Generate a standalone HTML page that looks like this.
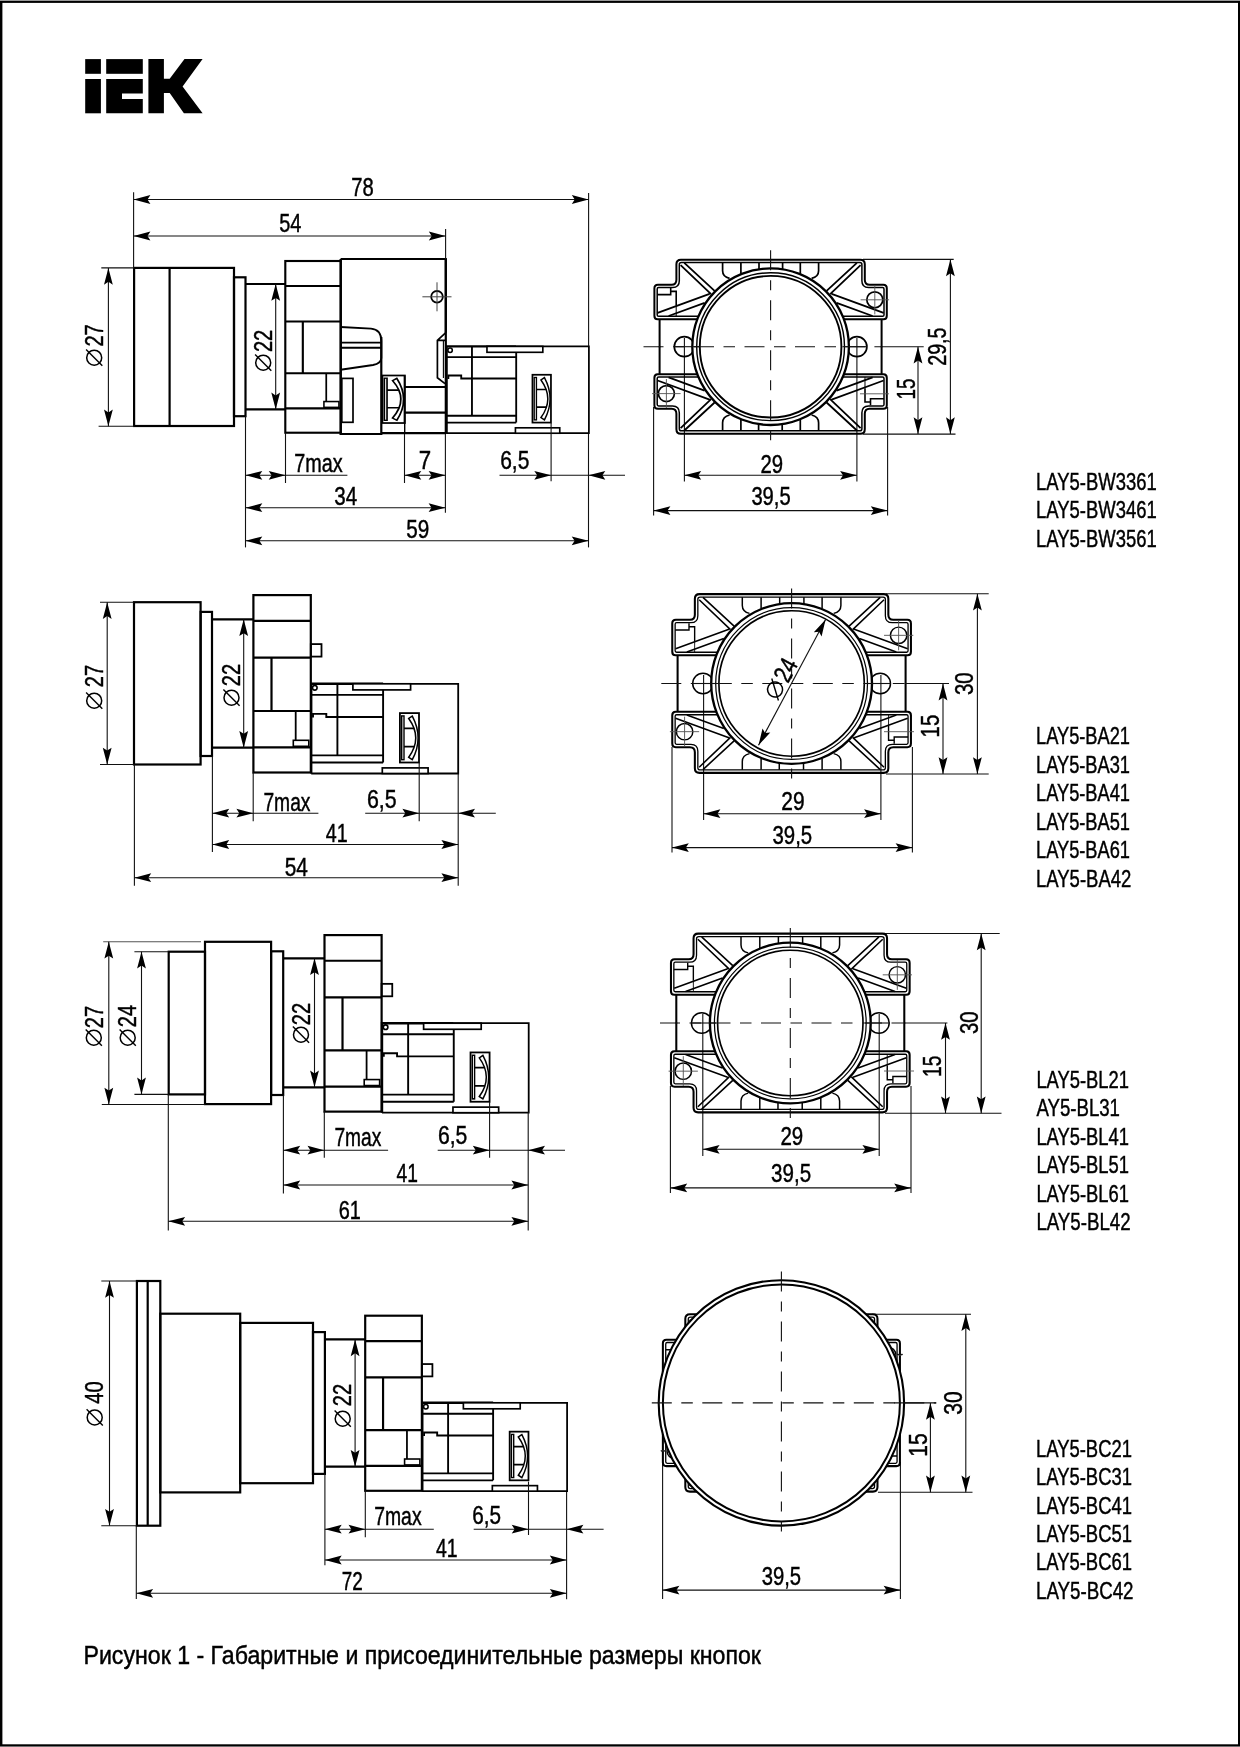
<!DOCTYPE html>
<html><head><meta charset="utf-8"><title>IEK LAY5</title>
<style>html,body{margin:0;padding:0;background:#fff}body{width:1240px;height:1747px;overflow:hidden}svg{display:block;filter:grayscale(1)}text{font-family:"Liberation Sans",sans-serif;fill:#000;stroke:#000;stroke-width:0.45px}</style></head><body>
<svg width="1240" height="1747" viewBox="0 0 1240 1747">
<rect x="0" y="0" width="1240" height="1747" fill="#fff"/>
<rect x="0" y="0" width="1240" height="1" fill="#999"/>
<rect x="0" y="1746.3" width="1240" height="0.7" fill="#777"/>
<rect x="0" y="1" width="1240" height="1.9" fill="#000"/>
<rect x="0" y="1744.3" width="1240" height="2" fill="#000"/>
<rect x="0" y="1" width="2.4" height="1745" fill="#000"/>
<rect x="1238" y="1" width="2" height="1745" fill="#000"/>
<g fill="#000">
<rect x="85.2" y="59.1" width="15.7" height="14.7"/>
<rect x="85.2" y="79" width="15.7" height="34.3"/>
<rect x="106.2" y="59.1" width="36.6" height="14.7"/>
<path d="M106.2,79 H142.8 V93.5 H122 V99.1 H142.8 V113.3 H106.2 Z"/>
<path d="M148.4,59.1 H163.9 V78.7 H169.7 L184.5,59.1 H202.6 L182.6,86.5 L202.6,113.3 H183.9 L169.7,93 H163.9 V113.3 H148.4 Z"/>
</g>
<rect x="134.1" y="267.9" width="99.9" height="158.1" stroke="#000" stroke-width="2.2" fill="none"/>
<line x1="169.6" y1="267.9" x2="169.6" y2="426" stroke="#000" stroke-width="2.2" />
<rect x="234" y="277.3" width="11.5" height="138.9" stroke="#000" stroke-width="2.2" fill="none"/>
<path d="M 245.5,284 H 285.3 M 245.5,409.4 H 285.3" stroke="#000" stroke-width="2.2" fill="none" />
<g transform="translate(285.3 261) scale(0.968)">
<rect x="0" y="0" width="57.4" height="177.4" stroke="#000" stroke-width="2.2" fill="none"/>
<path d="M 0,25.8 H 57.4 M 0,62.5 H 57.4 M 0,115.9 H 57.4 M 0,152.2 H 57.4 M 18.1,62.5 V 115.9" stroke="#000" stroke-width="2.2" fill="none" />
<path d="M 42.3,115.9 V 145.2" stroke="#000" stroke-width="1.8" fill="none" />
<rect x="39.9" y="145.2" width="15.5" height="6" stroke="#000" stroke-width="1.6" fill="none"/>
</g>
<path d="M 340.6,259 H 445.8 V 332.7 M 340.6,259 V 434 H 381.3 V 337" stroke="#000" stroke-width="2.2" fill="none" />
<path d="M 340.6,327 L 371,328.6 Q 381.3,329.5 381.3,341 V 358 Q 381.3,363.5 373,365 L 340.6,369.8 M 340.6,342.6 H 381.3 M 340.6,347.7 H 381.3" stroke="#000" stroke-width="1.9" fill="none" />
<rect x="341.8" y="378.4" width="11.2" height="43.9" stroke="#000" stroke-width="1.7" fill="none"/>
<g transform="translate(382.2 375.5) scale(1.178 0.962)">
<rect x="0" y="0" width="19.1" height="49.4" stroke="#000" stroke-width="1.8" fill="none"/>
<rect x="1.8" y="2.8" width="2.3" height="43.8" stroke="#000" stroke-width="1.4" fill="none"/>
<path d="M 4.1,15.2 H 15.6 M 4.1,33.5 H 15.6" stroke="#000" stroke-width="1.7" fill="none" />
<path d="M 12.4,3 Q 24,24.8 12.4,46.6 L 8.8,44.2 Q 22.9,24.8 8.8,5.4 Z" stroke="#000" stroke-width="1.5" fill="#fff" stroke-linejoin="miter"/>
</g>
<path d="M 404.7,375.5 V 434" stroke="#000" stroke-width="1.4" fill="none" />
<path d="M 404.7,387 H 445 M 404.7,412.6 H 445 M 381.3,433.2 H 446" stroke="#000" stroke-width="2.2" fill="none" />
<path d="M 445.8,332.7 L 437.4,340.3 V 377.8 L 445,383.6 M 437.4,340.3 H 445" stroke="#000" stroke-width="1.7" fill="none" />
<path d="M 443.4,340.3 V 378" stroke="#000" stroke-width="1.1" fill="none" />
<path d="M 445.8,259 V 434" stroke="#000" stroke-width="2.2" fill="none" />
<circle cx="437" cy="296.8" r="5.8" stroke="#000" stroke-width="1.8" fill="none"/>
<line x1="422.4" y1="296.8" x2="451.5" y2="296.8" stroke="#444" stroke-width="1.0" />
<line x1="437" y1="282.3" x2="437" y2="311.3" stroke="#444" stroke-width="1.0" />
<g transform="translate(446.6 346.4) scale(0.968)">
<path d="M 71.9,0 H 147 V 89.7 H 0" stroke="#000" stroke-width="1.8" fill="none" />
<path d="M 0,89.7 V 0 H 71.9" stroke="#000" stroke-width="2.4" fill="none" />
<circle cx="3.6" cy="4" r="2.3" stroke="#000" stroke-width="1.6" fill="none"/>
<path d="M 26.2,0 V 71.6 M 0,11.1 H 71.9 M 1.8,33.6 V 30.1 H 15.1 V 33.2 H 71.9 M 71.9,0 V 78.7 M 0,71.6 H 71.9 M 0,78.7 H 71.9" stroke="#000" stroke-width="1.9" fill="none" />
<rect x="41.7" y="0" width="57.7" height="6.1" stroke="#000" stroke-width="1.7" fill="#fff"/>
<rect x="71.1" y="84.1" width="45.8" height="5.6" stroke="#000" stroke-width="1.7" fill="#fff"/>
<g transform="translate(88.7 29.3) scale(1.0 1.0)">
<rect x="0" y="0" width="19.1" height="49.4" stroke="#000" stroke-width="1.8" fill="none"/>
<rect x="1.8" y="2.8" width="2.3" height="43.8" stroke="#000" stroke-width="1.4" fill="none"/>
<path d="M 4.1,15.2 H 15.6 M 4.1,33.5 H 15.6" stroke="#000" stroke-width="1.7" fill="none" />
<path d="M 12.4,3 Q 24,24.8 12.4,46.6 L 8.8,44.2 Q 22.9,24.8 8.8,5.4 Z" stroke="#000" stroke-width="1.5" fill="#fff" stroke-linejoin="miter"/>
</g>
</g>
<line x1="133.6" y1="192.3" x2="133.6" y2="268" stroke="#111" stroke-width="1.1" />
<line x1="588.6" y1="193" x2="588.6" y2="346" stroke="#111" stroke-width="1.1" />
<line x1="445.6" y1="229" x2="445.6" y2="259" stroke="#111" stroke-width="1.1" />
<line x1="133.6" y1="199.5" x2="588.6" y2="199.5" stroke="#111" stroke-width="1.1" />
<polygon points="133.6,199.5 150.4,203.9 147.5,199.5 150.4,195.1" fill="#000"/>
<polygon points="588.6,199.5 571.8,195.1 574.7,199.5 571.8,203.9" fill="#000"/>
<line x1="133.6" y1="236" x2="445.6" y2="236" stroke="#111" stroke-width="1.1" />
<polygon points="133.6,236 150.4,240.4 147.5,236 150.4,231.6" fill="#000"/>
<polygon points="445.6,236 428.8,231.6 431.7,236 428.8,240.4" fill="#000"/>
<text x="351.2" y="195.6" font-size="25.5" text-anchor="start" textLength="22.5" lengthAdjust="spacingAndGlyphs">78</text>
<text x="279.2" y="231.5" font-size="25.5" text-anchor="start" textLength="22.2" lengthAdjust="spacingAndGlyphs">54</text>
<line x1="101.3" y1="267.9" x2="134" y2="267.9" stroke="#111" stroke-width="1.1" />
<line x1="98.6" y1="426.3" x2="134" y2="426.3" stroke="#111" stroke-width="1.1" />
<line x1="108.4" y1="267.9" x2="108.4" y2="426.3" stroke="#111" stroke-width="1.1" />
<polygon points="108.4,267.9 104,284.7 108.4,281.8 112.8,284.7" fill="#000"/>
<polygon points="108.4,426.3 112.8,409.5 108.4,412.4 104,409.5" fill="#000"/>
<g transform="translate(94.2 357.7) rotate(-90)"><circle cx="0" cy="0" r="7.5" stroke="#000" stroke-width="1.5" fill="none"/><line x1="-8.1" y1="8.1" x2="8.1" y2="-8.1" stroke="#000" stroke-width="1.4"/></g>
<text x="103" y="346.6" font-size="25.5" text-anchor="start" textLength="22.4" lengthAdjust="spacingAndGlyphs" transform="rotate(-90 103 346.6)">27</text>
<line x1="275.7" y1="284" x2="275.7" y2="409.4" stroke="#111" stroke-width="1.1" />
<polygon points="275.7,284 271.3,300.8 275.7,297.9 280.1,300.8" fill="#000"/>
<polygon points="275.7,409.4 280.1,392.6 275.7,395.5 271.3,392.6" fill="#000"/>
<g transform="translate(263.2 362.7) rotate(-90)"><circle cx="0" cy="0" r="7.5" stroke="#000" stroke-width="1.5" fill="none"/><line x1="-8.1" y1="8.1" x2="8.1" y2="-8.1" stroke="#000" stroke-width="1.4"/></g>
<text x="272" y="352.1" font-size="25.5" text-anchor="start" textLength="22.4" lengthAdjust="spacingAndGlyphs" transform="rotate(-90 272 352.1)">22</text>
<line x1="245.5" y1="416" x2="245.5" y2="547.4" stroke="#111" stroke-width="1.1" />
<line x1="285.5" y1="433" x2="285.5" y2="483" stroke="#111" stroke-width="1.1" />
<line x1="404.5" y1="434" x2="404.5" y2="483" stroke="#111" stroke-width="1.1" />
<line x1="445.4" y1="434" x2="445.4" y2="512.7" stroke="#111" stroke-width="1.1" />
<line x1="551.1" y1="423" x2="551.1" y2="481.3" stroke="#111" stroke-width="1.1" />
<line x1="588.5" y1="434" x2="588.5" y2="547.4" stroke="#111" stroke-width="1.1" />
<line x1="245.5" y1="475.3" x2="347.4" y2="475.3" stroke="#111" stroke-width="1.1" />
<polygon points="245.5,475.3 262.3,479.7 259.4,475.3 262.3,470.9" fill="#000"/>
<polygon points="285.5,475.3 268.7,470.9 271.6,475.3 268.7,479.7" fill="#000"/>
<text x="294.2" y="472.3" font-size="25.5" text-anchor="start" textLength="48.4" lengthAdjust="spacingAndGlyphs">7max</text>
<line x1="404.5" y1="475.3" x2="445.4" y2="475.3" stroke="#111" stroke-width="1.1" />
<polygon points="404.5,475.3 421.3,479.7 418.4,475.3 421.3,470.9" fill="#000"/>
<polygon points="445.4,475.3 428.6,470.9 431.5,475.3 428.6,479.7" fill="#000"/>
<text x="418.7" y="469.4" font-size="25.5" text-anchor="start" textLength="12.4" lengthAdjust="spacingAndGlyphs">7</text>
<line x1="499.5" y1="475.3" x2="625" y2="475.3" stroke="#111" stroke-width="1.1" />
<polygon points="551.1,475.3 534.3,470.9 537.2,475.3 534.3,479.7" fill="#000"/>
<polygon points="588.5,475.3 605.3,479.7 602.4,475.3 605.3,470.9" fill="#000"/>
<text x="500.2" y="469" font-size="25.5" text-anchor="start" textLength="29.2" lengthAdjust="spacingAndGlyphs">6,5</text>
<line x1="245.5" y1="507.7" x2="445.4" y2="507.7" stroke="#111" stroke-width="1.1" />
<polygon points="245.5,507.7 262.3,512.1 259.4,507.7 262.3,503.3" fill="#000"/>
<polygon points="445.4,507.7 428.6,503.3 431.5,507.7 428.6,512.1" fill="#000"/>
<text x="334.2" y="504.6" font-size="25.5" text-anchor="start" textLength="22.9" lengthAdjust="spacingAndGlyphs">34</text>
<line x1="245.5" y1="540.8" x2="588.5" y2="540.8" stroke="#111" stroke-width="1.1" />
<polygon points="245.5,540.8 262.3,545.2 259.4,540.8 262.3,536.4" fill="#000"/>
<polygon points="588.5,540.8 571.7,536.4 574.6,540.8 571.7,545.2" fill="#000"/>
<text x="406.2" y="537.6" font-size="25.5" text-anchor="start" textLength="23" lengthAdjust="spacingAndGlyphs">59</text>
<line x1="863" y1="259.4" x2="953.7" y2="259.4" stroke="#111" stroke-width="1.1" />
<line x1="863" y1="434.1" x2="955.5" y2="434.1" stroke="#111" stroke-width="1.1" />
<line x1="653.6" y1="407" x2="653.6" y2="515.6" stroke="#111" stroke-width="1.1" />
<line x1="887.6" y1="407" x2="887.6" y2="515.6" stroke="#111" stroke-width="1.1" />
<line x1="684.4" y1="338" x2="684.4" y2="481.6" stroke="#111" stroke-width="1.1" />
<line x1="856.9" y1="338" x2="856.9" y2="481.6" stroke="#111" stroke-width="1.1" />
<g transform="translate(770.6 346.7) scale(1.0)">
<g transform="rotate(0)">
<path d="M -111,0.5 V -27.5 M -72,-27.5 H -113 Q -116.2,-27.5 -116.2,-31 V -58.5 Q -116.2,-62 -112.7,-62 H -99 Q -94.2,-62 -94.2,-67 V -82.5 Q -94.2,-87 -89.7,-87 H 89.7 Q 94.2,-87 94.2,-82.5 V -67 Q 94.2,-62 99,-62 H 112.7 Q 116.2,-62 116.2,-58.5 V -31 Q 116.2,-27.5 113,-27.5 H 72 M 111,-27.5 V 0.5" stroke="#000" stroke-width="2.0" fill="none" />
<path d="M -72.3,-30.4 H -112 Q -113.4,-30.4 -113.4,-31.8 V -57.8 Q -113.4,-59.2 -112,-59.2 H -98 Q -91.3,-59.2 -91.3,-66 V -82 Q -91.3,-84.1 -89.2,-84.1 H 89.2 Q 91.3,-84.1 91.3,-82 V -66 Q 91.3,-59.2 98,-59.2 H 112 Q 113.4,-59.2 113.4,-57.8 V -31.8 Q 113.4,-30.4 112,-30.4 H 72.3" stroke="#000" stroke-width="1.5" fill="none" />
<path d="M -90,-81.5 L -59.5,-52.5 M -86.3,-83.8 L -56,-55.8 M -113,-33.8 L -61,-52.9 M -102,-30.7 L -66,-43.9 M 90,-81.5 L 59.5,-52.5 M 86.3,-83.8 L 56,-55.8 M 113,-33.8 L 61,-52.9 M 102,-30.7 L 66,-43.9" stroke="#000" stroke-width="1.8" fill="none" />
<path d="M -48,-84.1 V -76 Q -48,-70 -41,-68.3 M -29.7,-84.1 V -73 M 48,-84.1 V -76 Q 48,-70 41,-68.3 M 29.7,-84.1 V -73 M -11.6,-84.1 V -77 M 12,-84.1 V -77" stroke="#000" stroke-width="1.7" fill="none" />
<path d="M -113.4,-52.1 H -99.9 V -58.6 M -99.9,-55.3 H -94.4 V -41.5" stroke="#000" stroke-width="1.6" fill="none" />
<path d="M -94.4,-41.5 V -30.4" stroke="#000" stroke-width="1.0" fill="none" />
<circle cx="104.2" cy="-46.9" r="8" stroke="#000" stroke-width="1.7" fill="none"/>
<line x1="90" y1="-46.9" x2="118.5" y2="-46.9" stroke="#555" stroke-width="0.9" />
<line x1="104.2" y1="-61.3" x2="104.2" y2="-32.3" stroke="#555" stroke-width="0.9" />
<circle cx="86.3" cy="0" r="10" stroke="#000" stroke-width="1.7" fill="none"/>
</g>
<g transform="rotate(180)">
<path d="M -111,0.5 V -27.5 M -72,-27.5 H -113 Q -116.2,-27.5 -116.2,-31 V -58.5 Q -116.2,-62 -112.7,-62 H -99 Q -94.2,-62 -94.2,-67 V -82.5 Q -94.2,-87 -89.7,-87 H 89.7 Q 94.2,-87 94.2,-82.5 V -67 Q 94.2,-62 99,-62 H 112.7 Q 116.2,-62 116.2,-58.5 V -31 Q 116.2,-27.5 113,-27.5 H 72 M 111,-27.5 V 0.5" stroke="#000" stroke-width="2.0" fill="none" />
<path d="M -72.3,-30.4 H -112 Q -113.4,-30.4 -113.4,-31.8 V -57.8 Q -113.4,-59.2 -112,-59.2 H -98 Q -91.3,-59.2 -91.3,-66 V -82 Q -91.3,-84.1 -89.2,-84.1 H 89.2 Q 91.3,-84.1 91.3,-82 V -66 Q 91.3,-59.2 98,-59.2 H 112 Q 113.4,-59.2 113.4,-57.8 V -31.8 Q 113.4,-30.4 112,-30.4 H 72.3" stroke="#000" stroke-width="1.5" fill="none" />
<path d="M -90,-81.5 L -59.5,-52.5 M -86.3,-83.8 L -56,-55.8 M -113,-33.8 L -61,-52.9 M -102,-30.7 L -66,-43.9 M 90,-81.5 L 59.5,-52.5 M 86.3,-83.8 L 56,-55.8 M 113,-33.8 L 61,-52.9 M 102,-30.7 L 66,-43.9" stroke="#000" stroke-width="1.8" fill="none" />
<path d="M -48,-84.1 V -76 Q -48,-70 -41,-68.3 M -29.7,-84.1 V -73 M 48,-84.1 V -76 Q 48,-70 41,-68.3 M 29.7,-84.1 V -73 M -11.6,-84.1 V -77 M 12,-84.1 V -77" stroke="#000" stroke-width="1.7" fill="none" />
<path d="M -113.4,-52.1 H -99.9 V -58.6 M -99.9,-55.3 H -94.4 V -41.5" stroke="#000" stroke-width="1.6" fill="none" />
<path d="M -94.4,-41.5 V -30.4" stroke="#000" stroke-width="1.0" fill="none" />
<circle cx="104.2" cy="-46.9" r="8" stroke="#000" stroke-width="1.7" fill="none"/>
<line x1="90" y1="-46.9" x2="118.5" y2="-46.9" stroke="#555" stroke-width="0.9" />
<line x1="104.2" y1="-61.3" x2="104.2" y2="-32.3" stroke="#555" stroke-width="0.9" />
<circle cx="86.3" cy="0" r="10" stroke="#000" stroke-width="1.7" fill="none"/>
</g>
<circle cx="0" cy="0" r="78.3" stroke="#000" stroke-width="2.3" fill="#fff"/>
<circle cx="0" cy="0" r="73.9" stroke="#000" stroke-width="1.4" fill="none"/>
<circle cx="0" cy="0" r="70.8" stroke="#000" stroke-width="1.9" fill="none"/>
</g>
<line x1="643.5" y1="346.7" x2="874" y2="346.7" stroke="#111" stroke-width="1.1" stroke-dasharray="20 9.5 11.5 9.5"/>
<line x1="770.6" y1="250.2" x2="770.6" y2="440.5" stroke="#111" stroke-width="1.1" stroke-dasharray="20 10 10 10"/>
<line x1="874.4" y1="346.7" x2="923.7" y2="346.7" stroke="#111" stroke-width="1.1" />
<line x1="674.5" y1="346.7" x2="699" y2="346.7" stroke="#111" stroke-width="1.1" />
<line x1="842.5" y1="346.7" x2="867" y2="346.7" stroke="#111" stroke-width="1.1" />
<line x1="860" y1="393.8" x2="889" y2="393.8" stroke="#555" stroke-width="0.9" />
<line x1="950.4" y1="259.4" x2="950.4" y2="434.1" stroke="#111" stroke-width="1.1" />
<polygon points="950.4,259.4 946,276.2 950.4,273.3 954.8,276.2" fill="#000"/>
<polygon points="950.4,434.1 954.8,417.3 950.4,420.2 946,417.3" fill="#000"/>
<text x="946.3" y="365.8" font-size="25.5" text-anchor="start" textLength="38.3" lengthAdjust="spacingAndGlyphs" transform="rotate(-90 946.3 365.8)">29,5</text>
<line x1="918" y1="346.7" x2="918" y2="434.1" stroke="#111" stroke-width="1.1" />
<polygon points="918,346.7 913.6,363.5 918,360.6 922.4,363.5" fill="#000"/>
<polygon points="918,434.1 922.4,417.3 918,420.2 913.6,417.3" fill="#000"/>
<text x="915.2" y="399.5" font-size="25.5" text-anchor="start" textLength="20.9" lengthAdjust="spacingAndGlyphs" transform="rotate(-90 915.2 399.5)">15</text>
<line x1="684.4" y1="475.3" x2="856.9" y2="475.3" stroke="#111" stroke-width="1.1" />
<polygon points="684.4,475.3 701.2,479.7 698.3,475.3 701.2,470.9" fill="#000"/>
<polygon points="856.9,475.3 840.1,470.9 843,475.3 840.1,479.7" fill="#000"/>
<text x="760.4" y="472.5" font-size="25.5" text-anchor="start" textLength="22.6" lengthAdjust="spacingAndGlyphs">29</text>
<line x1="653.6" y1="510.6" x2="887.6" y2="510.6" stroke="#111" stroke-width="1.1" />
<polygon points="653.6,510.6 670.4,515 667.5,510.6 670.4,506.2" fill="#000"/>
<polygon points="887.6,510.6 870.8,506.2 873.7,510.6 870.8,515" fill="#000"/>
<text x="751.4" y="504.7" font-size="25.5" text-anchor="start" textLength="39.3" lengthAdjust="spacingAndGlyphs">39,5</text>
<rect x="134" y="602.2" width="66.6" height="162.3" stroke="#000" stroke-width="2.2" fill="none"/>
<rect x="200.6" y="611.9" width="11.4" height="144.1" stroke="#000" stroke-width="2.2" fill="none"/>
<path d="M 212,619.3 H 253.4 M 212,747.7 H 253.4" stroke="#000" stroke-width="2.2" fill="none" />
<g transform="translate(253.4 595.1) scale(1.0)">
<rect x="0" y="0" width="57.4" height="177.4" stroke="#000" stroke-width="2.2" fill="none"/>
<path d="M 0,25.8 H 57.4 M 0,62.5 H 57.4 M 0,115.9 H 57.4 M 0,152.2 H 57.4 M 18.1,62.5 V 115.9" stroke="#000" stroke-width="2.2" fill="none" />
<path d="M 42.3,115.9 V 145.2" stroke="#000" stroke-width="1.8" fill="none" />
<rect x="39.9" y="145.2" width="15.5" height="6" stroke="#000" stroke-width="1.6" fill="none"/>
<rect x="57.4" y="49" width="10.7" height="12.5" stroke="#000" stroke-width="1.8" fill="none"/>
</g>
<g transform="translate(311.2 683.8) scale(1.0)">
<path d="M 71.9,0 H 147 V 89.7 H 0" stroke="#000" stroke-width="1.8" fill="none" />
<path d="M 0,89.7 V 0 H 71.9" stroke="#000" stroke-width="2.4" fill="none" />
<circle cx="3.6" cy="4" r="2.3" stroke="#000" stroke-width="1.6" fill="none"/>
<path d="M 26.2,0 V 71.6 M 0,11.1 H 71.9 M 1.8,33.6 V 30.1 H 15.1 V 33.2 H 71.9 M 71.9,0 V 78.7 M 0,71.6 H 71.9 M 0,78.7 H 71.9" stroke="#000" stroke-width="1.9" fill="none" />
<rect x="41.7" y="0" width="57.7" height="6.1" stroke="#000" stroke-width="1.7" fill="#fff"/>
<rect x="71.1" y="84.1" width="45.8" height="5.6" stroke="#000" stroke-width="1.7" fill="#fff"/>
<g transform="translate(88.7 29.3) scale(1.0 1.0)">
<rect x="0" y="0" width="19.1" height="49.4" stroke="#000" stroke-width="1.8" fill="none"/>
<rect x="1.8" y="2.8" width="2.3" height="43.8" stroke="#000" stroke-width="1.4" fill="none"/>
<path d="M 4.1,15.2 H 15.6 M 4.1,33.5 H 15.6" stroke="#000" stroke-width="1.7" fill="none" />
<path d="M 12.4,3 Q 24,24.8 12.4,46.6 L 8.8,44.2 Q 22.9,24.8 8.8,5.4 Z" stroke="#000" stroke-width="1.5" fill="#fff" stroke-linejoin="miter"/>
</g>
</g>
<line x1="100" y1="602.2" x2="134" y2="602.2" stroke="#111" stroke-width="1.1" />
<line x1="100" y1="764.5" x2="134" y2="764.5" stroke="#111" stroke-width="1.1" />
<line x1="107.2" y1="602.2" x2="107.2" y2="764.5" stroke="#111" stroke-width="1.1" />
<polygon points="107.2,602.2 102.8,619 107.2,616.1 111.6,619" fill="#000"/>
<polygon points="107.2,764.5 111.6,747.7 107.2,750.6 102.8,747.7" fill="#000"/>
<g transform="translate(94.2 700.7) rotate(-90)"><circle cx="0" cy="0" r="7.5" stroke="#000" stroke-width="1.5" fill="none"/><line x1="-8.1" y1="8.1" x2="8.1" y2="-8.1" stroke="#000" stroke-width="1.4"/></g>
<text x="103" y="687.3" font-size="25.5" text-anchor="start" textLength="22.4" lengthAdjust="spacingAndGlyphs" transform="rotate(-90 103 687.3)">27</text>
<line x1="243.7" y1="619.3" x2="243.7" y2="747.7" stroke="#111" stroke-width="1.1" />
<polygon points="243.7,619.3 239.3,636.1 243.7,633.2 248.1,636.1" fill="#000"/>
<polygon points="243.7,747.7 248.1,730.9 243.7,733.8 239.3,730.9" fill="#000"/>
<g transform="translate(231.5 697.7) rotate(-90)"><circle cx="0" cy="0" r="7.5" stroke="#000" stroke-width="1.5" fill="none"/><line x1="-8.1" y1="8.1" x2="8.1" y2="-8.1" stroke="#000" stroke-width="1.4"/></g>
<text x="240.3" y="686.3" font-size="25.5" text-anchor="start" textLength="22.4" lengthAdjust="spacingAndGlyphs" transform="rotate(-90 240.3 686.3)">22</text>
<line x1="134.4" y1="764.5" x2="134.4" y2="885.8" stroke="#111" stroke-width="1.1" />
<line x1="212.4" y1="756" x2="212.4" y2="851.9" stroke="#111" stroke-width="1.1" />
<line x1="253.2" y1="772.5" x2="253.2" y2="821.3" stroke="#111" stroke-width="1.1" />
<line x1="419.2" y1="762.5" x2="419.2" y2="821.3" stroke="#111" stroke-width="1.1" />
<line x1="458.2" y1="773.5" x2="458.2" y2="885.8" stroke="#111" stroke-width="1.1" />
<line x1="212.4" y1="813.2" x2="318.4" y2="813.2" stroke="#111" stroke-width="1.1" />
<polygon points="212.4,813.2 229.2,817.6 226.3,813.2 229.2,808.8" fill="#000"/>
<polygon points="253.2,813.2 236.4,808.8 239.3,813.2 236.4,817.6" fill="#000"/>
<text x="263.4" y="810.7" font-size="25.5" text-anchor="start" textLength="47.1" lengthAdjust="spacingAndGlyphs">7max</text>
<line x1="365.2" y1="813.2" x2="495.8" y2="813.2" stroke="#111" stroke-width="1.1" />
<polygon points="419.2,813.2 402.4,808.8 405.3,813.2 402.4,817.6" fill="#000"/>
<polygon points="458.2,813.2 475,817.6 472.1,813.2 475,808.8" fill="#000"/>
<text x="366.9" y="808.2" font-size="25.5" text-anchor="start" textLength="29.7" lengthAdjust="spacingAndGlyphs">6,5</text>
<line x1="212.4" y1="844.5" x2="458.2" y2="844.5" stroke="#111" stroke-width="1.1" />
<polygon points="212.4,844.5 229.2,848.9 226.3,844.5 229.2,840.1" fill="#000"/>
<polygon points="458.2,844.5 441.4,840.1 444.3,844.5 441.4,848.9" fill="#000"/>
<text x="325.7" y="841.5" font-size="25.5" text-anchor="start" textLength="21.9" lengthAdjust="spacingAndGlyphs">41</text>
<line x1="134.4" y1="877.7" x2="458.2" y2="877.7" stroke="#111" stroke-width="1.1" />
<polygon points="134.4,877.7 151.2,882.1 148.3,877.7 151.2,873.3" fill="#000"/>
<polygon points="458.2,877.7 441.4,873.3 444.3,877.7 441.4,882.1" fill="#000"/>
<text x="284.7" y="875.5" font-size="25.5" text-anchor="start" textLength="23.2" lengthAdjust="spacingAndGlyphs">54</text>
<line x1="886" y1="593.7" x2="988.7" y2="593.7" stroke="#111" stroke-width="1.1" />
<line x1="886" y1="774" x2="988.7" y2="774" stroke="#111" stroke-width="1.1" />
<line x1="672" y1="747" x2="672" y2="852.4" stroke="#111" stroke-width="1.1" />
<line x1="912.4" y1="747" x2="912.4" y2="852.4" stroke="#111" stroke-width="1.1" />
<line x1="703.6" y1="675" x2="703.6" y2="819.9" stroke="#111" stroke-width="1.1" />
<line x1="880.9" y1="675" x2="880.9" y2="819.9" stroke="#111" stroke-width="1.1" />
<g transform="translate(791.6 683.5) scale(1.027)">
<g transform="rotate(0)">
<path d="M -111,0.5 V -27.5 M -72,-27.5 H -113 Q -116.2,-27.5 -116.2,-31 V -58.5 Q -116.2,-62 -112.7,-62 H -99 Q -94.2,-62 -94.2,-67 V -82.5 Q -94.2,-87 -89.7,-87 H 89.7 Q 94.2,-87 94.2,-82.5 V -67 Q 94.2,-62 99,-62 H 112.7 Q 116.2,-62 116.2,-58.5 V -31 Q 116.2,-27.5 113,-27.5 H 72 M 111,-27.5 V 0.5" stroke="#000" stroke-width="2.0" fill="none" />
<path d="M -72.3,-30.4 H -112 Q -113.4,-30.4 -113.4,-31.8 V -57.8 Q -113.4,-59.2 -112,-59.2 H -98 Q -91.3,-59.2 -91.3,-66 V -82 Q -91.3,-84.1 -89.2,-84.1 H 89.2 Q 91.3,-84.1 91.3,-82 V -66 Q 91.3,-59.2 98,-59.2 H 112 Q 113.4,-59.2 113.4,-57.8 V -31.8 Q 113.4,-30.4 112,-30.4 H 72.3" stroke="#000" stroke-width="1.275" fill="none" />
<path d="M -90,-81.5 L -59.5,-52.5 M -86.3,-83.8 L -56,-55.8 M -113,-33.8 L -61,-52.9 M -102,-30.7 L -66,-43.9 M 90,-81.5 L 59.5,-52.5 M 86.3,-83.8 L 56,-55.8 M 113,-33.8 L 61,-52.9 M 102,-30.7 L 66,-43.9" stroke="#000" stroke-width="1.53" fill="none" />
<path d="M -48,-84.1 V -76 Q -48,-70 -41,-68.3 M -29.7,-84.1 V -73 M 48,-84.1 V -76 Q 48,-70 41,-68.3 M 29.7,-84.1 V -73 M -11.6,-84.1 V -77 M 12,-84.1 V -77" stroke="#000" stroke-width="1.4449999999999998" fill="none" />
<path d="M -113.4,-52.1 H -99.9 V -58.6 M -99.9,-55.3 H -94.4 V -41.5" stroke="#000" stroke-width="1.36" fill="none" />
<path d="M -94.4,-41.5 V -30.4" stroke="#000" stroke-width="0.85" fill="none" />
<circle cx="104.2" cy="-46.9" r="8" stroke="#000" stroke-width="1.4449999999999998" fill="none"/>
<line x1="90" y1="-46.9" x2="118.5" y2="-46.9" stroke="#555" stroke-width="0.9" />
<line x1="104.2" y1="-61.3" x2="104.2" y2="-32.3" stroke="#555" stroke-width="0.9" />
<circle cx="86.3" cy="0" r="10" stroke="#000" stroke-width="1.4449999999999998" fill="none"/>
</g>
<g transform="rotate(180)">
<path d="M -111,0.5 V -27.5 M -72,-27.5 H -113 Q -116.2,-27.5 -116.2,-31 V -58.5 Q -116.2,-62 -112.7,-62 H -99 Q -94.2,-62 -94.2,-67 V -82.5 Q -94.2,-87 -89.7,-87 H 89.7 Q 94.2,-87 94.2,-82.5 V -67 Q 94.2,-62 99,-62 H 112.7 Q 116.2,-62 116.2,-58.5 V -31 Q 116.2,-27.5 113,-27.5 H 72 M 111,-27.5 V 0.5" stroke="#000" stroke-width="2.0" fill="none" />
<path d="M -72.3,-30.4 H -112 Q -113.4,-30.4 -113.4,-31.8 V -57.8 Q -113.4,-59.2 -112,-59.2 H -98 Q -91.3,-59.2 -91.3,-66 V -82 Q -91.3,-84.1 -89.2,-84.1 H 89.2 Q 91.3,-84.1 91.3,-82 V -66 Q 91.3,-59.2 98,-59.2 H 112 Q 113.4,-59.2 113.4,-57.8 V -31.8 Q 113.4,-30.4 112,-30.4 H 72.3" stroke="#000" stroke-width="1.275" fill="none" />
<path d="M -90,-81.5 L -59.5,-52.5 M -86.3,-83.8 L -56,-55.8 M -113,-33.8 L -61,-52.9 M -102,-30.7 L -66,-43.9 M 90,-81.5 L 59.5,-52.5 M 86.3,-83.8 L 56,-55.8 M 113,-33.8 L 61,-52.9 M 102,-30.7 L 66,-43.9" stroke="#000" stroke-width="1.53" fill="none" />
<path d="M -48,-84.1 V -76 Q -48,-70 -41,-68.3 M -29.7,-84.1 V -73 M 48,-84.1 V -76 Q 48,-70 41,-68.3 M 29.7,-84.1 V -73 M -11.6,-84.1 V -77 M 12,-84.1 V -77" stroke="#000" stroke-width="1.4449999999999998" fill="none" />
<path d="M -113.4,-52.1 H -99.9 V -58.6 M -99.9,-55.3 H -94.4 V -41.5" stroke="#000" stroke-width="1.36" fill="none" />
<path d="M -94.4,-41.5 V -30.4" stroke="#000" stroke-width="0.85" fill="none" />
<circle cx="104.2" cy="-46.9" r="8" stroke="#000" stroke-width="1.4449999999999998" fill="none"/>
<line x1="90" y1="-46.9" x2="118.5" y2="-46.9" stroke="#555" stroke-width="0.9" />
<line x1="104.2" y1="-61.3" x2="104.2" y2="-32.3" stroke="#555" stroke-width="0.9" />
<circle cx="86.3" cy="0" r="10" stroke="#000" stroke-width="1.4449999999999998" fill="none"/>
</g>
<circle cx="0" cy="0" r="78.3" stroke="#000" stroke-width="2.3" fill="#fff"/>
<circle cx="0" cy="0" r="73.9" stroke="#000" stroke-width="1.19" fill="none"/>
<circle cx="0" cy="0" r="70.8" stroke="#000" stroke-width="1.615" fill="none"/>
</g>
<line x1="661.3" y1="683.5" x2="905" y2="683.5" stroke="#111" stroke-width="1.1" stroke-dasharray="20 9.5 11.5 9.5"/>
<line x1="791.6" y1="588.5" x2="791.6" y2="778.5" stroke="#111" stroke-width="1.1" stroke-dasharray="20 10 10 10"/>
<line x1="905" y1="683.5" x2="949" y2="683.5" stroke="#111" stroke-width="1.1" />
<line x1="692.5" y1="683.5" x2="717" y2="683.5" stroke="#111" stroke-width="1.1" />
<line x1="866" y1="683.5" x2="891" y2="683.5" stroke="#111" stroke-width="1.1" />
<line x1="884" y1="731.7" x2="914" y2="731.7" stroke="#555" stroke-width="0.9" />
<line x1="977.4" y1="593.7" x2="977.4" y2="774" stroke="#111" stroke-width="1.1" />
<polygon points="977.4,593.7 973,610.5 977.4,607.6 981.8,610.5" fill="#000"/>
<polygon points="977.4,774 981.8,757.2 977.4,760.1 973,757.2" fill="#000"/>
<text x="973.2" y="695.1" font-size="25.5" text-anchor="start" textLength="22.8" lengthAdjust="spacingAndGlyphs" transform="rotate(-90 973.2 695.1)">30</text>
<line x1="943" y1="683.6" x2="943" y2="774" stroke="#111" stroke-width="1.1" />
<polygon points="943,683.6 938.6,700.4 943,697.5 947.4,700.4" fill="#000"/>
<polygon points="943,774 947.4,757.2 943,760.1 938.6,757.2" fill="#000"/>
<text x="939.3" y="737.4" font-size="25.5" text-anchor="start" textLength="22.7" lengthAdjust="spacingAndGlyphs" transform="rotate(-90 939.3 737.4)">15</text>
<line x1="703.6" y1="813.7" x2="880.9" y2="813.7" stroke="#111" stroke-width="1.1" />
<polygon points="703.6,813.7 720.4,818.1 717.5,813.7 720.4,809.3" fill="#000"/>
<polygon points="880.9,813.7 864.1,809.3 867,813.7 864.1,818.1" fill="#000"/>
<text x="781.3" y="810" font-size="25.5" text-anchor="start" textLength="23.3" lengthAdjust="spacingAndGlyphs">29</text>
<line x1="672" y1="847.6" x2="912.4" y2="847.6" stroke="#111" stroke-width="1.1" />
<polygon points="672,847.6 688.8,852 685.9,847.6 688.8,843.2" fill="#000"/>
<polygon points="912.4,847.6 895.6,843.2 898.5,847.6 895.6,852" fill="#000"/>
<text x="772.5" y="843.9" font-size="25.5" text-anchor="start" textLength="39.7" lengthAdjust="spacingAndGlyphs">39,5</text>
<line x1="758.5" y1="745.3" x2="825.6" y2="619.6" stroke="#111" stroke-width="1.1" />
<polygon points="758.5,745.3 770.29,732.55 765.05,733.04 762.53,728.41" fill="#000"/>
<polygon points="825.6,619.6 813.81,632.35 819.05,631.86 821.57,636.49" fill="#000"/>
<g transform="translate(782.6 674.8) rotate(-61.91)">
<g transform="translate(-16.5 0.3) rotate(0)"><circle cx="0" cy="0" r="7.5" stroke="#000" stroke-width="1.5" fill="none"/><line x1="-8.1" y1="8.1" x2="8.1" y2="-8.1" stroke="#000" stroke-width="1.4"/></g>
<text x="-5.5" y="9" font-size="25.5" text-anchor="start" textLength="22.4" lengthAdjust="spacingAndGlyphs">24</text>
</g>
<rect x="168.7" y="951.7" width="36.3" height="142.7" stroke="#000" stroke-width="2.2" fill="none"/>
<rect x="205" y="941.8" width="66.1" height="162.3" stroke="#000" stroke-width="2.2" fill="none"/>
<rect x="271.1" y="951.3" width="12.1" height="143.7" stroke="#000" stroke-width="2.2" fill="none"/>
<path d="M 283.2,958.3 H 324.5 M 283.2,1087.3 H 324.5" stroke="#000" stroke-width="2.2" fill="none" />
<g transform="translate(324.5 935.1) scale(0.995)">
<rect x="0" y="0" width="57.4" height="177.4" stroke="#000" stroke-width="2.2" fill="none"/>
<path d="M 0,25.8 H 57.4 M 0,62.5 H 57.4 M 0,115.9 H 57.4 M 0,152.2 H 57.4 M 18.1,62.5 V 115.9" stroke="#000" stroke-width="2.2" fill="none" />
<path d="M 42.3,115.9 V 145.2" stroke="#000" stroke-width="1.8" fill="none" />
<rect x="39.9" y="145.2" width="15.5" height="6" stroke="#000" stroke-width="1.6" fill="none"/>
<rect x="57.4" y="49" width="10.7" height="12.5" stroke="#000" stroke-width="1.8" fill="none"/>
</g>
<g transform="translate(382 1023.2) scale(0.998)">
<path d="M 71.9,0 H 147 V 89.7 H 0" stroke="#000" stroke-width="1.8" fill="none" />
<path d="M 0,89.7 V 0 H 71.9" stroke="#000" stroke-width="2.4" fill="none" />
<circle cx="3.6" cy="4" r="2.3" stroke="#000" stroke-width="1.6" fill="none"/>
<path d="M 26.2,0 V 71.6 M 0,11.1 H 71.9 M 1.8,33.6 V 30.1 H 15.1 V 33.2 H 71.9 M 71.9,0 V 78.7 M 0,71.6 H 71.9 M 0,78.7 H 71.9" stroke="#000" stroke-width="1.9" fill="none" />
<rect x="41.7" y="0" width="57.7" height="6.1" stroke="#000" stroke-width="1.7" fill="#fff"/>
<rect x="71.1" y="84.1" width="45.8" height="5.6" stroke="#000" stroke-width="1.7" fill="#fff"/>
<g transform="translate(88.7 29.3) scale(1.0 1.0)">
<rect x="0" y="0" width="19.1" height="49.4" stroke="#000" stroke-width="1.8" fill="none"/>
<rect x="1.8" y="2.8" width="2.3" height="43.8" stroke="#000" stroke-width="1.4" fill="none"/>
<path d="M 4.1,15.2 H 15.6 M 4.1,33.5 H 15.6" stroke="#000" stroke-width="1.7" fill="none" />
<path d="M 12.4,3 Q 24,24.8 12.4,46.6 L 8.8,44.2 Q 22.9,24.8 8.8,5.4 Z" stroke="#000" stroke-width="1.5" fill="#fff" stroke-linejoin="miter"/>
</g>
</g>
<line x1="103.2" y1="941.8" x2="201" y2="941.8" stroke="#555" stroke-width="1.1" />
<line x1="101.8" y1="1104.5" x2="205" y2="1104.5" stroke="#111" stroke-width="1.1" />
<line x1="108.8" y1="941.8" x2="108.8" y2="1104.5" stroke="#111" stroke-width="1.1" />
<polygon points="108.8,941.8 104.4,958.6 108.8,955.7 113.2,958.6" fill="#000"/>
<polygon points="108.8,1104.5 113.2,1087.7 108.8,1090.6 104.4,1087.7" fill="#000"/>
<g transform="translate(93.8 1037.7) rotate(-90)"><circle cx="0" cy="0" r="7.5" stroke="#000" stroke-width="1.5" fill="none"/><line x1="-8.1" y1="8.1" x2="8.1" y2="-8.1" stroke="#000" stroke-width="1.4"/></g>
<text x="102.6" y="1028.3" font-size="25.5" text-anchor="start" textLength="22.4" lengthAdjust="spacingAndGlyphs" transform="rotate(-90 102.6 1028.3)">27</text>
<line x1="134.4" y1="951.7" x2="168.7" y2="951.7" stroke="#111" stroke-width="1.1" />
<line x1="134.4" y1="1094.4" x2="168.7" y2="1094.4" stroke="#111" stroke-width="1.1" />
<line x1="141.5" y1="951.7" x2="141.5" y2="1094.4" stroke="#111" stroke-width="1.1" />
<polygon points="141.5,951.7 137.1,968.5 141.5,965.6 145.9,968.5" fill="#000"/>
<polygon points="141.5,1094.4 145.9,1077.6 141.5,1080.5 137.1,1077.6" fill="#000"/>
<g transform="translate(127.7 1037.7) rotate(-90)"><circle cx="0" cy="0" r="7.5" stroke="#000" stroke-width="1.5" fill="none"/><line x1="-8.1" y1="8.1" x2="8.1" y2="-8.1" stroke="#000" stroke-width="1.4"/></g>
<text x="136.5" y="1027.3" font-size="25.5" text-anchor="start" textLength="22.4" lengthAdjust="spacingAndGlyphs" transform="rotate(-90 136.5 1027.3)">24</text>
<line x1="314.5" y1="958.3" x2="314.5" y2="1087.3" stroke="#111" stroke-width="1.1" />
<polygon points="314.5,958.3 310.1,975.1 314.5,972.2 318.9,975.1" fill="#000"/>
<polygon points="314.5,1087.3 318.9,1070.5 314.5,1073.4 310.1,1070.5" fill="#000"/>
<g transform="translate(301 1034.7) rotate(-90)"><circle cx="0" cy="0" r="7.5" stroke="#000" stroke-width="1.5" fill="none"/><line x1="-8.1" y1="8.1" x2="8.1" y2="-8.1" stroke="#000" stroke-width="1.4"/></g>
<text x="309.8" y="1025.3" font-size="25.5" text-anchor="start" textLength="22.4" lengthAdjust="spacingAndGlyphs" transform="rotate(-90 309.8 1025.3)">22</text>
<line x1="168.3" y1="1094.4" x2="168.3" y2="1230.6" stroke="#111" stroke-width="1.1" />
<line x1="283.4" y1="1095" x2="283.4" y2="1193.5" stroke="#111" stroke-width="1.1" />
<line x1="324.3" y1="1111" x2="324.3" y2="1157.8" stroke="#111" stroke-width="1.1" />
<line x1="489.6" y1="1102" x2="489.6" y2="1157.8" stroke="#111" stroke-width="1.1" />
<line x1="528.2" y1="1112" x2="528.2" y2="1230.6" stroke="#111" stroke-width="1.1" />
<line x1="283.4" y1="1150.2" x2="388.1" y2="1150.2" stroke="#111" stroke-width="1.1" />
<polygon points="283.4,1150.2 300.2,1154.6 297.3,1150.2 300.2,1145.8" fill="#000"/>
<polygon points="324.3,1150.2 307.5,1145.8 310.4,1150.2 307.5,1154.6" fill="#000"/>
<text x="334.4" y="1145.6" font-size="25.5" text-anchor="start" textLength="46.9" lengthAdjust="spacingAndGlyphs">7max</text>
<line x1="437.7" y1="1150.2" x2="565" y2="1150.2" stroke="#111" stroke-width="1.1" />
<polygon points="489.6,1150.2 472.8,1145.8 475.7,1150.2 472.8,1154.6" fill="#000"/>
<polygon points="528.2,1150.2 545,1154.6 542.1,1150.2 545,1145.8" fill="#000"/>
<text x="437.9" y="1143.8" font-size="25.5" text-anchor="start" textLength="29.4" lengthAdjust="spacingAndGlyphs">6,5</text>
<line x1="283.4" y1="1185" x2="528.2" y2="1185" stroke="#111" stroke-width="1.1" />
<polygon points="283.4,1185 300.2,1189.4 297.3,1185 300.2,1180.6" fill="#000"/>
<polygon points="528.2,1185 511.4,1180.6 514.3,1185 511.4,1189.4" fill="#000"/>
<text x="396.6" y="1181.5" font-size="25.5" text-anchor="start" textLength="21.4" lengthAdjust="spacingAndGlyphs">41</text>
<line x1="168.3" y1="1221.3" x2="528.2" y2="1221.3" stroke="#111" stroke-width="1.1" />
<polygon points="168.3,1221.3 185.1,1225.7 182.2,1221.3 185.1,1216.9" fill="#000"/>
<polygon points="528.2,1221.3 511.4,1216.9 514.3,1221.3 511.4,1225.7" fill="#000"/>
<text x="338.7" y="1218.6" font-size="25.5" text-anchor="start" textLength="22.1" lengthAdjust="spacingAndGlyphs">61</text>
<line x1="885" y1="933.5" x2="999.7" y2="933.5" stroke="#111" stroke-width="1.1" />
<line x1="885" y1="1113.2" x2="1001.5" y2="1113.2" stroke="#111" stroke-width="1.1" />
<line x1="670.4" y1="1086" x2="670.4" y2="1193" stroke="#111" stroke-width="1.1" />
<line x1="911" y1="1086" x2="911" y2="1193" stroke="#111" stroke-width="1.1" />
<line x1="702.8" y1="1014" x2="702.8" y2="1156" stroke="#111" stroke-width="1.1" />
<line x1="879.2" y1="1014" x2="879.2" y2="1156" stroke="#111" stroke-width="1.1" />
<g transform="translate(790.3 1023) scale(1.027)">
<g transform="rotate(0)">
<path d="M -111,0.5 V -27.5 M -72,-27.5 H -113 Q -116.2,-27.5 -116.2,-31 V -58.5 Q -116.2,-62 -112.7,-62 H -99 Q -94.2,-62 -94.2,-67 V -82.5 Q -94.2,-87 -89.7,-87 H 89.7 Q 94.2,-87 94.2,-82.5 V -67 Q 94.2,-62 99,-62 H 112.7 Q 116.2,-62 116.2,-58.5 V -31 Q 116.2,-27.5 113,-27.5 H 72 M 111,-27.5 V 0.5" stroke="#000" stroke-width="2.0" fill="none" />
<path d="M -72.3,-30.4 H -112 Q -113.4,-30.4 -113.4,-31.8 V -57.8 Q -113.4,-59.2 -112,-59.2 H -98 Q -91.3,-59.2 -91.3,-66 V -82 Q -91.3,-84.1 -89.2,-84.1 H 89.2 Q 91.3,-84.1 91.3,-82 V -66 Q 91.3,-59.2 98,-59.2 H 112 Q 113.4,-59.2 113.4,-57.8 V -31.8 Q 113.4,-30.4 112,-30.4 H 72.3" stroke="#000" stroke-width="1.275" fill="none" />
<path d="M -90,-81.5 L -59.5,-52.5 M -86.3,-83.8 L -56,-55.8 M -113,-33.8 L -61,-52.9 M -102,-30.7 L -66,-43.9 M 90,-81.5 L 59.5,-52.5 M 86.3,-83.8 L 56,-55.8 M 113,-33.8 L 61,-52.9 M 102,-30.7 L 66,-43.9" stroke="#000" stroke-width="1.53" fill="none" />
<path d="M -48,-84.1 V -76 Q -48,-70 -41,-68.3 M -29.7,-84.1 V -73 M 48,-84.1 V -76 Q 48,-70 41,-68.3 M 29.7,-84.1 V -73 M -11.6,-84.1 V -77 M 12,-84.1 V -77" stroke="#000" stroke-width="1.4449999999999998" fill="none" />
<path d="M -113.4,-52.1 H -99.9 V -58.6 M -99.9,-55.3 H -94.4 V -41.5" stroke="#000" stroke-width="1.36" fill="none" />
<path d="M -94.4,-41.5 V -30.4" stroke="#000" stroke-width="0.85" fill="none" />
<circle cx="104.2" cy="-46.9" r="8" stroke="#000" stroke-width="1.4449999999999998" fill="none"/>
<line x1="90" y1="-46.9" x2="118.5" y2="-46.9" stroke="#555" stroke-width="0.9" />
<line x1="104.2" y1="-61.3" x2="104.2" y2="-32.3" stroke="#555" stroke-width="0.9" />
<circle cx="86.3" cy="0" r="10" stroke="#000" stroke-width="1.4449999999999998" fill="none"/>
</g>
<g transform="rotate(180)">
<path d="M -111,0.5 V -27.5 M -72,-27.5 H -113 Q -116.2,-27.5 -116.2,-31 V -58.5 Q -116.2,-62 -112.7,-62 H -99 Q -94.2,-62 -94.2,-67 V -82.5 Q -94.2,-87 -89.7,-87 H 89.7 Q 94.2,-87 94.2,-82.5 V -67 Q 94.2,-62 99,-62 H 112.7 Q 116.2,-62 116.2,-58.5 V -31 Q 116.2,-27.5 113,-27.5 H 72 M 111,-27.5 V 0.5" stroke="#000" stroke-width="2.0" fill="none" />
<path d="M -72.3,-30.4 H -112 Q -113.4,-30.4 -113.4,-31.8 V -57.8 Q -113.4,-59.2 -112,-59.2 H -98 Q -91.3,-59.2 -91.3,-66 V -82 Q -91.3,-84.1 -89.2,-84.1 H 89.2 Q 91.3,-84.1 91.3,-82 V -66 Q 91.3,-59.2 98,-59.2 H 112 Q 113.4,-59.2 113.4,-57.8 V -31.8 Q 113.4,-30.4 112,-30.4 H 72.3" stroke="#000" stroke-width="1.275" fill="none" />
<path d="M -90,-81.5 L -59.5,-52.5 M -86.3,-83.8 L -56,-55.8 M -113,-33.8 L -61,-52.9 M -102,-30.7 L -66,-43.9 M 90,-81.5 L 59.5,-52.5 M 86.3,-83.8 L 56,-55.8 M 113,-33.8 L 61,-52.9 M 102,-30.7 L 66,-43.9" stroke="#000" stroke-width="1.53" fill="none" />
<path d="M -48,-84.1 V -76 Q -48,-70 -41,-68.3 M -29.7,-84.1 V -73 M 48,-84.1 V -76 Q 48,-70 41,-68.3 M 29.7,-84.1 V -73 M -11.6,-84.1 V -77 M 12,-84.1 V -77" stroke="#000" stroke-width="1.4449999999999998" fill="none" />
<path d="M -113.4,-52.1 H -99.9 V -58.6 M -99.9,-55.3 H -94.4 V -41.5" stroke="#000" stroke-width="1.36" fill="none" />
<path d="M -94.4,-41.5 V -30.4" stroke="#000" stroke-width="0.85" fill="none" />
<circle cx="104.2" cy="-46.9" r="8" stroke="#000" stroke-width="1.4449999999999998" fill="none"/>
<line x1="90" y1="-46.9" x2="118.5" y2="-46.9" stroke="#555" stroke-width="0.9" />
<line x1="104.2" y1="-61.3" x2="104.2" y2="-32.3" stroke="#555" stroke-width="0.9" />
<circle cx="86.3" cy="0" r="10" stroke="#000" stroke-width="1.4449999999999998" fill="none"/>
</g>
<circle cx="0" cy="0" r="78.3" stroke="#000" stroke-width="2.3" fill="#fff"/>
<circle cx="0" cy="0" r="73.9" stroke="#000" stroke-width="1.19" fill="none"/>
<circle cx="0" cy="0" r="70.8" stroke="#000" stroke-width="1.615" fill="none"/>
</g>
<line x1="660" y1="1023" x2="905" y2="1023" stroke="#111" stroke-width="1.1" stroke-dasharray="20 9.5 11.5 9.5"/>
<line x1="790.3" y1="928" x2="790.3" y2="1118" stroke="#111" stroke-width="1.1" stroke-dasharray="20 10 10 10"/>
<line x1="905" y1="1023" x2="947.4" y2="1023" stroke="#111" stroke-width="1.1" />
<line x1="691.5" y1="1023" x2="716" y2="1023" stroke="#111" stroke-width="1.1" />
<line x1="865" y1="1023" x2="890" y2="1023" stroke="#111" stroke-width="1.1" />
<line x1="884" y1="1071" x2="914" y2="1071" stroke="#555" stroke-width="0.9" />
<line x1="981.2" y1="933.5" x2="981.2" y2="1113.2" stroke="#111" stroke-width="1.1" />
<polygon points="981.2,933.5 976.8,950.3 981.2,947.4 985.6,950.3" fill="#000"/>
<polygon points="981.2,1113.2 985.6,1096.4 981.2,1099.3 976.8,1096.4" fill="#000"/>
<text x="977.5" y="1034" font-size="25.5" text-anchor="start" textLength="22.6" lengthAdjust="spacingAndGlyphs" transform="rotate(-90 977.5 1034)">30</text>
<line x1="945.5" y1="1023" x2="945.5" y2="1113.2" stroke="#111" stroke-width="1.1" />
<polygon points="945.5,1023 941.1,1039.8 945.5,1036.9 949.9,1039.8" fill="#000"/>
<polygon points="945.5,1113.2 949.9,1096.4 945.5,1099.3 941.1,1096.4" fill="#000"/>
<text x="941.2" y="1077" font-size="25.5" text-anchor="start" textLength="21.3" lengthAdjust="spacingAndGlyphs" transform="rotate(-90 941.2 1077)">15</text>
<line x1="702.8" y1="1149.3" x2="879.2" y2="1149.3" stroke="#111" stroke-width="1.1" />
<polygon points="702.8,1149.3 719.6,1153.7 716.7,1149.3 719.6,1144.9" fill="#000"/>
<polygon points="879.2,1149.3 862.4,1144.9 865.3,1149.3 862.4,1153.7" fill="#000"/>
<text x="780.4" y="1145.3" font-size="25.5" text-anchor="start" textLength="22.8" lengthAdjust="spacingAndGlyphs">29</text>
<line x1="670.4" y1="1187.9" x2="911" y2="1187.9" stroke="#111" stroke-width="1.1" />
<polygon points="670.4,1187.9 687.2,1192.3 684.3,1187.9 687.2,1183.5" fill="#000"/>
<polygon points="911,1187.9 894.2,1183.5 897.1,1187.9 894.2,1192.3" fill="#000"/>
<text x="771.1" y="1181.7" font-size="25.5" text-anchor="start" textLength="40" lengthAdjust="spacingAndGlyphs">39,5</text>
<rect x="136.9" y="1281" width="23.4" height="244.7" stroke="#000" stroke-width="2.2" fill="none"/>
<line x1="147.7" y1="1281" x2="147.7" y2="1525.7" stroke="#000" stroke-width="2.2" />
<rect x="160.3" y="1313.7" width="79.9" height="178.7" stroke="#000" stroke-width="2.2" fill="none"/>
<rect x="240.2" y="1322.9" width="72.8" height="160.3" stroke="#000" stroke-width="2.2" fill="none"/>
<rect x="313" y="1332.1" width="11.9" height="141.8" stroke="#000" stroke-width="2.2" fill="none"/>
<path d="M 324.9,1339.4 H 365.2 M 324.9,1466.7 H 365.2" stroke="#000" stroke-width="2.2" fill="none" />
<g transform="translate(365.2 1315.7) scale(0.987)">
<rect x="0" y="0" width="57.4" height="177.4" stroke="#000" stroke-width="2.2" fill="none"/>
<path d="M 0,25.8 H 57.4 M 0,62.5 H 57.4 M 0,115.9 H 57.4 M 0,152.2 H 57.4 M 18.1,62.5 V 115.9" stroke="#000" stroke-width="2.2" fill="none" />
<path d="M 42.3,115.9 V 145.2" stroke="#000" stroke-width="1.8" fill="none" />
<rect x="39.9" y="145.2" width="15.5" height="6" stroke="#000" stroke-width="1.6" fill="none"/>
<rect x="57.4" y="49" width="10.7" height="12.5" stroke="#000" stroke-width="1.8" fill="none"/>
</g>
<g transform="translate(422.3 1402.8) scale(0.985)">
<path d="M 71.9,0 H 147 V 89.7 H 0" stroke="#000" stroke-width="1.8" fill="none" />
<path d="M 0,89.7 V 0 H 71.9" stroke="#000" stroke-width="2.4" fill="none" />
<circle cx="3.6" cy="4" r="2.3" stroke="#000" stroke-width="1.6" fill="none"/>
<path d="M 26.2,0 V 71.6 M 0,11.1 H 71.9 M 1.8,33.6 V 30.1 H 15.1 V 33.2 H 71.9 M 71.9,0 V 78.7 M 0,71.6 H 71.9 M 0,78.7 H 71.9" stroke="#000" stroke-width="1.9" fill="none" />
<rect x="41.7" y="0" width="57.7" height="6.1" stroke="#000" stroke-width="1.7" fill="#fff"/>
<rect x="71.1" y="84.1" width="45.8" height="5.6" stroke="#000" stroke-width="1.7" fill="#fff"/>
<g transform="translate(88.7 29.3) scale(1.0 1.0)">
<rect x="0" y="0" width="19.1" height="49.4" stroke="#000" stroke-width="1.8" fill="none"/>
<rect x="1.8" y="2.8" width="2.3" height="43.8" stroke="#000" stroke-width="1.4" fill="none"/>
<path d="M 4.1,15.2 H 15.6 M 4.1,33.5 H 15.6" stroke="#000" stroke-width="1.7" fill="none" />
<path d="M 12.4,3 Q 24,24.8 12.4,46.6 L 8.8,44.2 Q 22.9,24.8 8.8,5.4 Z" stroke="#000" stroke-width="1.5" fill="#fff" stroke-linejoin="miter"/>
</g>
</g>
<line x1="101.3" y1="1281" x2="136.9" y2="1281" stroke="#111" stroke-width="1.1" />
<line x1="101.3" y1="1525.7" x2="136.9" y2="1525.7" stroke="#111" stroke-width="1.1" />
<line x1="109.5" y1="1281" x2="109.5" y2="1525.7" stroke="#111" stroke-width="1.1" />
<polygon points="109.5,1281 105.1,1297.8 109.5,1294.9 113.9,1297.8" fill="#000"/>
<polygon points="109.5,1525.7 113.9,1508.9 109.5,1511.8 105.1,1508.9" fill="#000"/>
<g transform="translate(94.7 1417.4) rotate(-90)"><circle cx="0" cy="0" r="7.5" stroke="#000" stroke-width="1.5" fill="none"/><line x1="-8.1" y1="8.1" x2="8.1" y2="-8.1" stroke="#000" stroke-width="1.4"/></g>
<text x="103.5" y="1403.8" font-size="25.5" text-anchor="start" textLength="22.4" lengthAdjust="spacingAndGlyphs" transform="rotate(-90 103.5 1403.8)">40</text>
<line x1="355.1" y1="1339.4" x2="355.1" y2="1466.7" stroke="#111" stroke-width="1.1" />
<polygon points="355.1,1339.4 350.7,1356.2 355.1,1353.3 359.5,1356.2" fill="#000"/>
<polygon points="355.1,1466.7 359.5,1449.9 355.1,1452.8 350.7,1449.9" fill="#000"/>
<g transform="translate(342.7 1418.7) rotate(-90)"><circle cx="0" cy="0" r="7.5" stroke="#000" stroke-width="1.5" fill="none"/><line x1="-8.1" y1="8.1" x2="8.1" y2="-8.1" stroke="#000" stroke-width="1.4"/></g>
<text x="351.5" y="1406.2" font-size="25.5" text-anchor="start" textLength="22.4" lengthAdjust="spacingAndGlyphs" transform="rotate(-90 351.5 1406.2)">22</text>
<line x1="136.3" y1="1525.7" x2="136.3" y2="1599" stroke="#111" stroke-width="1.1" />
<line x1="324.9" y1="1474" x2="324.9" y2="1565.2" stroke="#111" stroke-width="1.1" />
<line x1="365.3" y1="1490" x2="365.3" y2="1537.3" stroke="#111" stroke-width="1.1" />
<line x1="528.5" y1="1481.6" x2="528.5" y2="1535" stroke="#111" stroke-width="1.1" />
<line x1="566.6" y1="1492" x2="566.6" y2="1599.2" stroke="#111" stroke-width="1.1" />
<line x1="324.9" y1="1529.2" x2="433.8" y2="1529.2" stroke="#111" stroke-width="1.1" />
<polygon points="324.9,1529.2 341.7,1533.6 338.8,1529.2 341.7,1524.8" fill="#000"/>
<polygon points="365.3,1529.2 348.5,1524.8 351.4,1529.2 348.5,1533.6" fill="#000"/>
<text x="374.2" y="1525.1" font-size="25.5" text-anchor="start" textLength="47.4" lengthAdjust="spacingAndGlyphs">7max</text>
<line x1="473.7" y1="1529.2" x2="603.6" y2="1529.2" stroke="#111" stroke-width="1.1" />
<polygon points="528.5,1529.2 511.7,1524.8 514.6,1529.2 511.7,1533.6" fill="#000"/>
<polygon points="566.6,1529.2 583.4,1533.6 580.5,1529.2 583.4,1524.8" fill="#000"/>
<text x="472.2" y="1524" font-size="25.5" text-anchor="start" textLength="28.8" lengthAdjust="spacingAndGlyphs">6,5</text>
<line x1="324.9" y1="1560" x2="566.6" y2="1560" stroke="#111" stroke-width="1.1" />
<polygon points="324.9,1560 341.7,1564.4 338.8,1560 341.7,1555.6" fill="#000"/>
<polygon points="566.6,1560 549.8,1555.6 552.7,1560 549.8,1564.4" fill="#000"/>
<text x="435.9" y="1556.7" font-size="25.5" text-anchor="start" textLength="21.6" lengthAdjust="spacingAndGlyphs">41</text>
<line x1="136.3" y1="1593.3" x2="566.6" y2="1593.3" stroke="#111" stroke-width="1.1" />
<polygon points="136.3,1593.3 153.1,1597.7 150.2,1593.3 153.1,1588.9" fill="#000"/>
<polygon points="566.6,1593.3 549.8,1588.9 552.7,1593.3 549.8,1597.7" fill="#000"/>
<text x="341.7" y="1590.1" font-size="25.5" text-anchor="start" textLength="21" lengthAdjust="spacingAndGlyphs">72</text>
<line x1="872" y1="1314.2" x2="971" y2="1314.2" stroke="#111" stroke-width="1.1" />
<line x1="878" y1="1492.3" x2="972.5" y2="1492.3" stroke="#111" stroke-width="1.1" />
<line x1="662.6" y1="1452" x2="662.6" y2="1599.1" stroke="#111" stroke-width="1.1" />
<line x1="900.4" y1="1462" x2="900.4" y2="1599.1" stroke="#111" stroke-width="1.1" />
<g transform="translate(781.4 1402.9) scale(1.02)">
<g transform="rotate(0)">
<path d="M -111,0.5 V -27.5 M -72,-27.5 H -113 Q -116.2,-27.5 -116.2,-31 V -58.5 Q -116.2,-62 -112.7,-62 H -99 Q -94.2,-62 -94.2,-67 V -82.5 Q -94.2,-87 -89.7,-87 H 89.7 Q 94.2,-87 94.2,-82.5 V -67 Q 94.2,-62 99,-62 H 112.7 Q 116.2,-62 116.2,-58.5 V -31 Q 116.2,-27.5 113,-27.5 H 72 M 111,-27.5 V 0.5" stroke="#000" stroke-width="2.0" fill="none" />
<path d="M -72.3,-30.4 H -112 Q -113.4,-30.4 -113.4,-31.8 V -57.8 Q -113.4,-59.2 -112,-59.2 H -98 Q -91.3,-59.2 -91.3,-66 V -82 Q -91.3,-84.1 -89.2,-84.1 H 89.2 Q 91.3,-84.1 91.3,-82 V -66 Q 91.3,-59.2 98,-59.2 H 112 Q 113.4,-59.2 113.4,-57.8 V -31.8 Q 113.4,-30.4 112,-30.4 H 72.3" stroke="#000" stroke-width="1.275" fill="none" />
<path d="M -90,-81.5 L -59.5,-52.5 M -86.3,-83.8 L -56,-55.8 M -113,-33.8 L -61,-52.9 M -102,-30.7 L -66,-43.9 M 90,-81.5 L 59.5,-52.5 M 86.3,-83.8 L 56,-55.8 M 113,-33.8 L 61,-52.9 M 102,-30.7 L 66,-43.9" stroke="#000" stroke-width="1.53" fill="none" />
<path d="M -48,-84.1 V -76 Q -48,-70 -41,-68.3 M -29.7,-84.1 V -73 M 48,-84.1 V -76 Q 48,-70 41,-68.3 M 29.7,-84.1 V -73 M -11.6,-84.1 V -77 M 12,-84.1 V -77" stroke="#000" stroke-width="1.4449999999999998" fill="none" />
<path d="M -113.4,-52.1 H -99.9 V -58.6 M -99.9,-55.3 H -94.4 V -41.5" stroke="#000" stroke-width="1.36" fill="none" />
<path d="M -94.4,-41.5 V -30.4" stroke="#000" stroke-width="0.85" fill="none" />
<circle cx="104.2" cy="-46.9" r="8" stroke="#000" stroke-width="1.4449999999999998" fill="none"/>
<line x1="90" y1="-46.9" x2="118.5" y2="-46.9" stroke="#555" stroke-width="0.9" />
<line x1="104.2" y1="-61.3" x2="104.2" y2="-32.3" stroke="#555" stroke-width="0.9" />
<circle cx="86.3" cy="0" r="10" stroke="#000" stroke-width="1.4449999999999998" fill="none"/>
</g>
<g transform="rotate(180)">
<path d="M -111,0.5 V -27.5 M -72,-27.5 H -113 Q -116.2,-27.5 -116.2,-31 V -58.5 Q -116.2,-62 -112.7,-62 H -99 Q -94.2,-62 -94.2,-67 V -82.5 Q -94.2,-87 -89.7,-87 H 89.7 Q 94.2,-87 94.2,-82.5 V -67 Q 94.2,-62 99,-62 H 112.7 Q 116.2,-62 116.2,-58.5 V -31 Q 116.2,-27.5 113,-27.5 H 72 M 111,-27.5 V 0.5" stroke="#000" stroke-width="2.0" fill="none" />
<path d="M -72.3,-30.4 H -112 Q -113.4,-30.4 -113.4,-31.8 V -57.8 Q -113.4,-59.2 -112,-59.2 H -98 Q -91.3,-59.2 -91.3,-66 V -82 Q -91.3,-84.1 -89.2,-84.1 H 89.2 Q 91.3,-84.1 91.3,-82 V -66 Q 91.3,-59.2 98,-59.2 H 112 Q 113.4,-59.2 113.4,-57.8 V -31.8 Q 113.4,-30.4 112,-30.4 H 72.3" stroke="#000" stroke-width="1.275" fill="none" />
<path d="M -90,-81.5 L -59.5,-52.5 M -86.3,-83.8 L -56,-55.8 M -113,-33.8 L -61,-52.9 M -102,-30.7 L -66,-43.9 M 90,-81.5 L 59.5,-52.5 M 86.3,-83.8 L 56,-55.8 M 113,-33.8 L 61,-52.9 M 102,-30.7 L 66,-43.9" stroke="#000" stroke-width="1.53" fill="none" />
<path d="M -48,-84.1 V -76 Q -48,-70 -41,-68.3 M -29.7,-84.1 V -73 M 48,-84.1 V -76 Q 48,-70 41,-68.3 M 29.7,-84.1 V -73 M -11.6,-84.1 V -77 M 12,-84.1 V -77" stroke="#000" stroke-width="1.4449999999999998" fill="none" />
<path d="M -113.4,-52.1 H -99.9 V -58.6 M -99.9,-55.3 H -94.4 V -41.5" stroke="#000" stroke-width="1.36" fill="none" />
<path d="M -94.4,-41.5 V -30.4" stroke="#000" stroke-width="0.85" fill="none" />
<circle cx="104.2" cy="-46.9" r="8" stroke="#000" stroke-width="1.4449999999999998" fill="none"/>
<line x1="90" y1="-46.9" x2="118.5" y2="-46.9" stroke="#555" stroke-width="0.9" />
<line x1="104.2" y1="-61.3" x2="104.2" y2="-32.3" stroke="#555" stroke-width="0.9" />
<circle cx="86.3" cy="0" r="10" stroke="#000" stroke-width="1.4449999999999998" fill="none"/>
</g>
<circle cx="0" cy="0" r="78.3" stroke="#000" stroke-width="2.3" fill="#fff"/>
<circle cx="0" cy="0" r="73.9" stroke="#000" stroke-width="1.19" fill="none"/>
<circle cx="0" cy="0" r="70.8" stroke="#000" stroke-width="1.615" fill="none"/>
</g>
<circle cx="781.4" cy="1402.9" r="122.7" stroke="#000" stroke-width="2.1" fill="#fff"/>
<circle cx="781.4" cy="1402.9" r="118.5" stroke="#000" stroke-width="2.0" fill="none"/>
<line x1="651.8" y1="1402.9" x2="936.2" y2="1402.9" stroke="#111" stroke-width="1.1" stroke-dasharray="20 9.5 11.5 9.5"/>
<line x1="781.4" y1="1271.6" x2="781.4" y2="1531.5" stroke="#111" stroke-width="1.1" stroke-dasharray="20 10 10 10"/>
<line x1="897" y1="1354.4" x2="902.8" y2="1354.4" stroke="#111" stroke-width="1.1" />
<line x1="661" y1="1451" x2="666" y2="1451" stroke="#111" stroke-width="1.1" />
<line x1="894" y1="1402.9" x2="936.2" y2="1402.9" stroke="#111" stroke-width="1.1" />
<line x1="965.8" y1="1314.2" x2="965.8" y2="1492.3" stroke="#111" stroke-width="1.1" />
<polygon points="965.8,1314.2 961.4,1331 965.8,1328.1 970.2,1331" fill="#000"/>
<polygon points="965.8,1492.3 970.2,1475.5 965.8,1478.4 961.4,1475.5" fill="#000"/>
<text x="962.3" y="1414.7" font-size="25.5" text-anchor="start" textLength="23.5" lengthAdjust="spacingAndGlyphs" transform="rotate(-90 962.3 1414.7)">30</text>
<line x1="930.4" y1="1402.9" x2="930.4" y2="1492.3" stroke="#111" stroke-width="1.1" />
<polygon points="930.4,1402.9 926,1419.7 930.4,1416.8 934.8,1419.7" fill="#000"/>
<polygon points="930.4,1492.3 934.8,1475.5 930.4,1478.4 926,1475.5" fill="#000"/>
<text x="927.5" y="1456.8" font-size="25.5" text-anchor="start" textLength="23.4" lengthAdjust="spacingAndGlyphs" transform="rotate(-90 927.5 1456.8)">15</text>
<line x1="662.6" y1="1590.1" x2="900.4" y2="1590.1" stroke="#111" stroke-width="1.1" />
<polygon points="662.6,1590.1 679.4,1594.5 676.5,1590.1 679.4,1585.7" fill="#000"/>
<polygon points="900.4,1590.1 883.6,1585.7 886.5,1590.1 883.6,1594.5" fill="#000"/>
<text x="761.7" y="1585.2" font-size="25.5" text-anchor="start" textLength="39.4" lengthAdjust="spacingAndGlyphs">39,5</text>
<text x="1036" y="489.9" font-size="24" text-anchor="start" textLength="120.7" lengthAdjust="spacingAndGlyphs">LAY5-BW3361</text>
<text x="1036" y="518.3" font-size="24" text-anchor="start" textLength="120.7" lengthAdjust="spacingAndGlyphs">LAY5-BW3461</text>
<text x="1036" y="546.7" font-size="24" text-anchor="start" textLength="120.7" lengthAdjust="spacingAndGlyphs">LAY5-BW3561</text>
<text x="1036" y="744.4" font-size="24" text-anchor="start" textLength="94" lengthAdjust="spacingAndGlyphs">LAY5-BA21</text>
<text x="1036" y="772.8" font-size="24" text-anchor="start" textLength="94" lengthAdjust="spacingAndGlyphs">LAY5-BA31</text>
<text x="1036" y="801.2" font-size="24" text-anchor="start" textLength="94" lengthAdjust="spacingAndGlyphs">LAY5-BA41</text>
<text x="1036" y="829.6" font-size="24" text-anchor="start" textLength="94" lengthAdjust="spacingAndGlyphs">LAY5-BA51</text>
<text x="1036" y="858" font-size="24" text-anchor="start" textLength="94" lengthAdjust="spacingAndGlyphs">LAY5-BA61</text>
<text x="1036" y="886.6" font-size="24" text-anchor="start" textLength="95.3" lengthAdjust="spacingAndGlyphs">LAY5-BA42</text>
<text x="1036.4" y="1087.9" font-size="24" text-anchor="start" textLength="92.6" lengthAdjust="spacingAndGlyphs">LAY5-BL21</text>
<text x="1036.4" y="1116.3" font-size="24" text-anchor="start" textLength="83.6" lengthAdjust="spacingAndGlyphs">AY5-BL31</text>
<text x="1036.4" y="1144.7" font-size="24" text-anchor="start" textLength="92.6" lengthAdjust="spacingAndGlyphs">LAY5-BL41</text>
<text x="1036.4" y="1173.1" font-size="24" text-anchor="start" textLength="92.6" lengthAdjust="spacingAndGlyphs">LAY5-BL51</text>
<text x="1036.4" y="1201.7" font-size="24" text-anchor="start" textLength="92.6" lengthAdjust="spacingAndGlyphs">LAY5-BL61</text>
<text x="1036.4" y="1229.8" font-size="24" text-anchor="start" textLength="94.2" lengthAdjust="spacingAndGlyphs">LAY5-BL42</text>
<text x="1036" y="1456.6" font-size="24" text-anchor="start" textLength="96" lengthAdjust="spacingAndGlyphs">LAY5-BC21</text>
<text x="1036" y="1485" font-size="24" text-anchor="start" textLength="96" lengthAdjust="spacingAndGlyphs">LAY5-BC31</text>
<text x="1036" y="1513.6" font-size="24" text-anchor="start" textLength="96" lengthAdjust="spacingAndGlyphs">LAY5-BC41</text>
<text x="1036" y="1541.8" font-size="24" text-anchor="start" textLength="96" lengthAdjust="spacingAndGlyphs">LAY5-BC51</text>
<text x="1036" y="1570.4" font-size="24" text-anchor="start" textLength="96" lengthAdjust="spacingAndGlyphs">LAY5-BC61</text>
<text x="1036" y="1598.5" font-size="24" text-anchor="start" textLength="97.5" lengthAdjust="spacingAndGlyphs">LAY5-BC42</text>
<text x="83.5" y="1664.3" font-size="25" text-anchor="start" textLength="677.5" lengthAdjust="spacingAndGlyphs">Рисунок 1 - Габаритные и присоединительные размеры кнопок</text>
</svg></body></html>
